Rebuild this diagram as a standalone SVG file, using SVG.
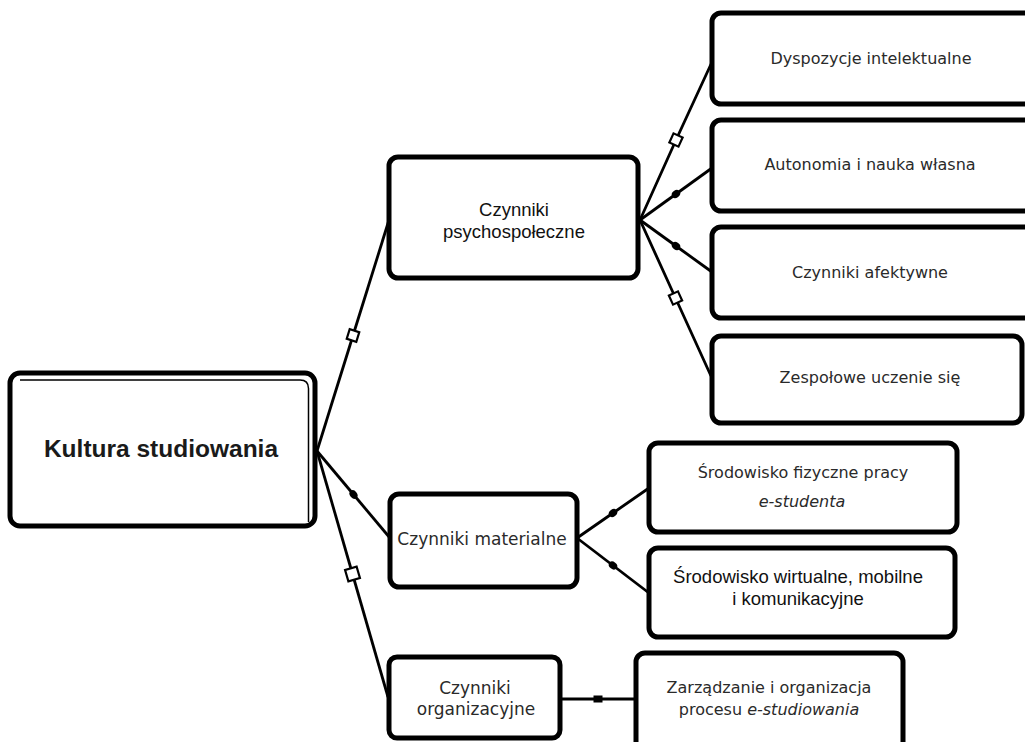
<svg xmlns="http://www.w3.org/2000/svg" width="1025" height="742" viewBox="0 0 1025 742">
  <style>
    .box { fill: #fff; stroke: #000; stroke-width: 5; }
    .con { fill: none; stroke: #000; stroke-width: 2.8; }
    .t1 { font-family: "DejaVu Sans", Verdana, sans-serif; font-size: 16px; fill: #2a2a2a; text-anchor: middle; }
    .t2 { font-family: "Liberation Sans", Arial, sans-serif; font-size: 18.5px; fill: #111; text-anchor: middle; }
    .t3 { font-family: "DejaVu Sans", Verdana, sans-serif; font-size: 17px; fill: #2a2a2a; text-anchor: middle; }
    .tb { font-family: "Liberation Sans", Arial, sans-serif; font-size: 24.5px; font-weight: bold; fill: #1a1a1a; text-anchor: middle; }
    .it { font-style: italic; }
  </style>
  <defs>
    <marker id="sq" markerUnits="userSpaceOnUse" markerWidth="16" markerHeight="16" refX="8" refY="8" orient="auto">
      <rect x="3" y="3" width="10" height="10" fill="#fff" stroke="#000" stroke-width="2.2"/>
    </marker>
    <marker id="sqL" markerUnits="userSpaceOnUse" markerWidth="18" markerHeight="18" refX="9" refY="9" orient="auto">
      <rect x="3" y="3" width="12" height="12" fill="#fff" stroke="#000" stroke-width="2.2"/>
    </marker>
    <marker id="dot" markerUnits="userSpaceOnUse" markerWidth="12" markerHeight="12" refX="6" refY="6" orient="auto">
      <ellipse cx="6" cy="6" rx="4.5" ry="3.6" fill="#000"/>
    </marker>
    <marker id="bar" markerUnits="userSpaceOnUse" markerWidth="12" markerHeight="12" refX="6" refY="6" orient="auto">
      <rect x="1.5" y="2.5" width="9" height="7" fill="#000"/>
    </marker>
  </defs>

  <g id="connectors">
    <path class="con" d="M317 451 L353 335.5 L389 220" marker-mid="url(#sq)"/>
    <path class="con" d="M317 451 L353.5 494.5 L390 538" marker-mid="url(#dot)"/>
    <path class="con" d="M317 451 L352.5 574 L388 697" marker-mid="url(#sqL)"/>
    <path class="con" d="M640 220 L676 140 L712 62" marker-mid="url(#sq)"/>
    <path class="con" d="M640 220 L676 194 L712 168" marker-mid="url(#dot)"/>
    <path class="con" d="M640 220 L676 246 L712 272" marker-mid="url(#dot)"/>
    <path class="con" d="M640 220 L675.5 298 L711 376" marker-mid="url(#sq)"/>
    <path class="con" d="M577 538 L613 513 L649 488" marker-mid="url(#dot)"/>
    <path class="con" d="M577 538 L613 565.5 L649 593" marker-mid="url(#dot)"/>
    <path class="con" d="M560 699 L598 699 L636 699" marker-mid="url(#bar)"/>
  </g>

  <g id="kultura">
    <rect class="box" x="10" y="373" width="305" height="153" rx="10"/>
    <path d="M20 380 H300 Q308.5 380 308.5 388.5 V522" fill="none" stroke="#000" stroke-width="1.5"/>
    <text class="tb" x="161" y="457">Kultura studiowania</text>
  </g>

  <g id="psychospoleczne">
    <rect class="box" x="389" y="157" width="249" height="121" rx="9"/>
    <text class="t2" x="514" y="216">Czynniki</text>
    <text class="t2" x="514" y="238">psychospołeczne</text>
  </g>

  <g id="dyspozycje">
    <rect class="box" x="712" y="13" width="330" height="91" rx="9"/>
    <text class="t1" x="871" y="64">Dyspozycje intelektualne</text>
  </g>

  <g id="autonomia">
    <rect class="box" x="712" y="120" width="330" height="91" rx="9"/>
    <text class="t1" x="870" y="170">Autonomia i nauka własna</text>
  </g>

  <g id="afektywne">
    <rect class="box" x="712" y="227" width="330" height="91" rx="9"/>
    <text class="t1" x="870" y="278">Czynniki afektywne</text>
  </g>

  <g id="zespolowe">
    <rect class="box" x="712" y="336" width="310" height="87" rx="9"/>
    <text class="t1" x="870" y="383">Zespołowe uczenie się</text>
  </g>

  <g id="materialne">
    <rect class="box" x="390" y="494" width="187" height="93" rx="9"/>
    <text class="t3" x="482" y="545">Czynniki materialne</text>
  </g>

  <g id="fizyczne">
    <rect class="box" x="649" y="443" width="308" height="89" rx="9"/>
    <text class="t1" x="803" y="478">Środowisko fizyczne pracy</text>
    <text class="t1 it" x="802" y="507">e-studenta</text>
  </g>

  <g id="wirtualne">
    <rect class="box" x="649" y="548" width="306" height="89" rx="9"/>
    <text class="t2" x="798" y="583">Środowisko wirtualne, mobilne</text>
    <text class="t2" x="798" y="605">i komunikacyjne</text>
  </g>

  <g id="organizacyjne">
    <rect class="box" x="389" y="657" width="171" height="81" rx="8"/>
    <text class="t3" x="475" y="694">Czynniki</text>
    <text class="t3" x="476" y="715">organizacyjne</text>
  </g>

  <g id="zarzadzanie">
    <rect class="box" x="636" y="653" width="267" height="100" rx="9"/>
    <text class="t1" x="769" y="693">Zarządzanie i organizacja</text>
    <text class="t1" x="769" y="715">procesu <tspan class="it">e-studiowania</tspan></text>
  </g>
</svg>
